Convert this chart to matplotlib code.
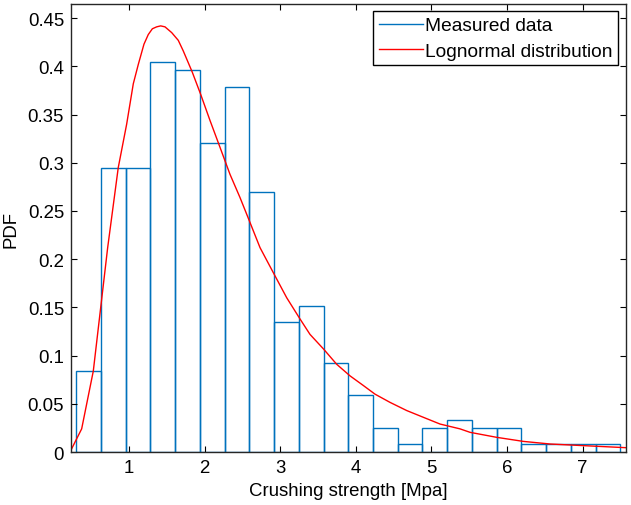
import numpy as np
import matplotlib
matplotlib.use("Agg")
import matplotlib.pyplot as plt
from matplotlib.lines import Line2D

plt.rcParams['font.family'] = ['Liberation Sans', 'DejaVu Sans']

# Histogram (measured data): 22 equal-width bins between these limits
bin_low, bin_high = 0.30, 7.50
pdf_heights = [0.0843, 0.295, 0.295, 0.405, 0.396, 0.320, 0.379, 0.270,
               0.1345, 0.151, 0.0923, 0.0588, 0.0249, 0.0083, 0.0249, 0.0332,
               0.0249, 0.0249, 0.0083, 0.0083, 0.0083, 0.0083]

# Lognormal distribution curve
curve_x = [0.233, 0.374, 0.528, 0.626, 0.718, 0.858, 0.969, 1.057, 1.123, 1.198,
           1.255, 1.309, 1.366, 1.419, 1.476, 1.565, 1.652, 1.718, 1.837, 1.948,
           2.071, 2.204, 2.336, 2.468, 2.601, 2.733, 2.909, 3.086, 3.262, 3.394,
           3.571, 3.747, 3.923, 4.099, 4.254, 4.452, 4.673, 4.893, 5.114, 5.378,
           5.511, 5.864, 6.216, 6.569, 7.01, 7.567]
curve_y = [0.002, 0.024, 0.084, 0.150, 0.212, 0.295, 0.340, 0.382, 0.402, 0.423,
           0.433, 0.439, 0.441, 0.442, 0.441, 0.435, 0.427, 0.416, 0.394, 0.371,
           0.344, 0.316, 0.288, 0.264, 0.238, 0.212, 0.186, 0.160, 0.138, 0.122,
           0.107, 0.091, 0.079, 0.069, 0.060, 0.0515, 0.043, 0.036, 0.029, 0.024,
           0.0204, 0.0152, 0.011, 0.0083, 0.0066, 0.0045]

xticks = [1, 2, 3, 4, 5, 6, 7]
yticks = [0, 0.05, 0.1, 0.15, 0.2, 0.25, 0.3, 0.35, 0.4, 0.45]
ytick_labels = ['0', '0.05', '0.1', '0.15', '0.2', '0.25', '0.3', '0.35', '0.4', '0.45']

fig = plt.figure(figsize=(6.31, 5.06), dpi=100)
ax = fig.add_axes([71/631, 1-453/506, (625.5-71)/631, (453-5)/506])

edges = np.linspace(bin_low, bin_high, len(pdf_heights) + 1)
widths = np.diff(edges)
blue = '#0072BD'
ax.bar(edges[:-1], pdf_heights, width=widths, align='edge',
       fill=False, edgecolor=blue, linewidth=1.0)
ax.plot(curve_x, curve_y, color='red', linewidth=1.0)

ax.set_xlim(0.233, 7.567)
ax.set_ylim(0, 0.4647)
ax.set_xticks(xticks)
ax.set_yticks(yticks)
ax.set_yticklabels(ytick_labels)

fs = 13.4
ax.tick_params(direction='in', top=True, right=True, length=4, width=0.8,
               labelsize=fs, pad=5)
for s in ax.spines.values():
    s.set_linewidth(1.0)
    s.set_color('#262626')

ax.set_xlabel('Crushing strength [Mpa]', fontsize=fs, labelpad=4)
ax.set_ylabel('PDF', fontsize=fs, labelpad=6)

handles = [Line2D([], [], color=blue, linewidth=1.0),
           Line2D([], [], color='red', linewidth=1.0)]
leg = ax.legend(handles, ['Measured data', 'Lognormal distribution'],
                loc='upper right', fontsize=13.8, frameon=True, fancybox=False,
                framealpha=1, edgecolor='black', handlelength=2.3,
                handletextpad=0.1, borderpad=0.3, labelspacing=0.4,
                borderaxespad=0.38)
leg.get_frame().set_linewidth(1.0)

fig.savefig('out.png', dpi=100)
